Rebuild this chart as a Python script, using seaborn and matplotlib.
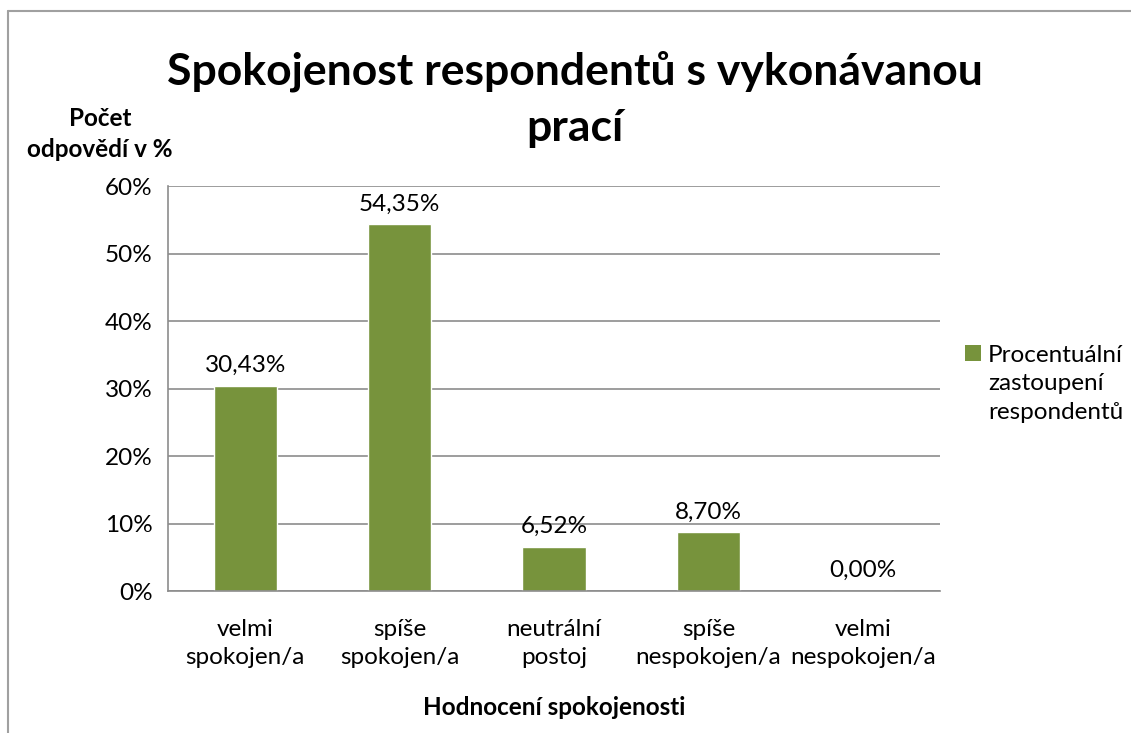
import pandas as pd
import seaborn as sns
from matplotlib import pyplot as plt
from matplotlib.lines import Line2D
from matplotlib.patches import Patch

categories = ["velmi\nspokojen/a", "spíše\nspokojen/a", "neutrální\npostoj",
              "spíše\nnespokojen/a", "velmi\nnespokojen/a"]
values = [30.43, 54.35, 6.52, 8.70, 0.00]
y_ticks = [0, 10, 20, 30, 40, 50, 60]
series_name = "Procentuální\nzastoupení\nrespondentů"

green = "#77933C"
grey = "#8C8C8C"
fs = 17.5

sns.set_style("white")
plt.rcParams["font.family"] = ["Lato", "DejaVu Sans"]
plt.rcParams["text.color"] = "black"
plt.rcParams["axes.labelcolor"] = "black"
plt.rcParams["xtick.labelcolor"] = "black"
plt.rcParams["ytick.labelcolor"] = "black"

df = pd.DataFrame({"kategorie": categories, "hodnota": values})

fig = plt.figure(figsize=(11.31, 7.33), dpi=100)
ax = fig.add_axes([0.1485, 0.1937, 0.6826, 0.5525])

sns.barplot(data=df, x="kategorie", y="hodnota", color=green, width=0.41,
            saturation=1, ax=ax)

ax.set_ylim(0, 60)
ax.set_xlim(-0.5, 4.5)
ax.set_yticks(y_ticks)
ax.set_yticklabels([f"{t}%" for t in y_ticks], fontsize=fs)
ax.yaxis.grid(True, color=grey, linewidth=1.2)
ax.set_axisbelow(True)

# category boundary ticks on x axis
ax.set_xticks([i - 0.5 for i in range(len(categories) + 1)], minor=True)
ax.set_xticks(range(len(categories)))
ax.set_xticklabels(categories, fontsize=fs, linespacing=1.45)
ax.tick_params(axis="x", which="major", length=0, pad=20)
ax.tick_params(axis="x", which="minor", length=7, width=1.2, color=grey, direction="out")
ax.tick_params(axis="y", length=7, width=1.2, color=grey, direction="out", pad=4)

for s in ["top", "right"]:
    ax.spines[s].set_visible(False)
for s in ["left", "bottom"]:
    ax.spines[s].set_color(grey)
    ax.spines[s].set_linewidth(1.2)

for i, v in enumerate(values):
    ax.annotate(f"{v:.2f}%".replace(".", ","), (i, v), xytext=(0, 7),
                textcoords="offset points", ha="center", va="bottom", fontsize=fs)

ax.set_xlabel("Hodnocení spokojenosti", fontsize=fs, fontweight="bold", labelpad=20)
ax.set_ylabel("")

fig.text(575 / 1131, 1 - 99 / 733, "Spokojenost respondentů s vykonávanou\nprací",
         ha="center", va="center", fontsize=32, fontweight="bold", linespacing=1.48)
fig.text(100 / 1131, 1 - 134 / 733, "Počet\nodpovědí v %", ha="center", va="center",
         fontsize=fs, fontweight="bold", linespacing=1.45)

handle = Patch(facecolor=green, edgecolor="none")
leg = fig.legend([handle], [series_name], loc="center left",
                 bbox_to_anchor=(965 / 1131, 1 - 384 / 733), frameon=False,
                 fontsize=fs, handlelength=0.65, handleheight=0.65, handletextpad=0.3,
                 borderaxespad=0, borderpad=0)
for t in leg.get_texts():
    t.set_linespacing(1.45)
try:
    # put the square next to the first line, like Excel does
    leg._legend_handle_box.get_children()[0].get_children()[0].align = "top"
except Exception:
    pass

# outer chart frame (left and top edges visible)
fig.add_artist(Line2D([8 / 1131, 8 / 1131], [0, 1 - 11 / 733], color="#A0A0A0",
                      linewidth=1.5, transform=fig.transFigure))
fig.add_artist(Line2D([8 / 1131, 1], [1 - 11 / 733, 1 - 11 / 733], color="#A0A0A0",
                      linewidth=1.5, transform=fig.transFigure))

fig.savefig("out.png", dpi=100)
